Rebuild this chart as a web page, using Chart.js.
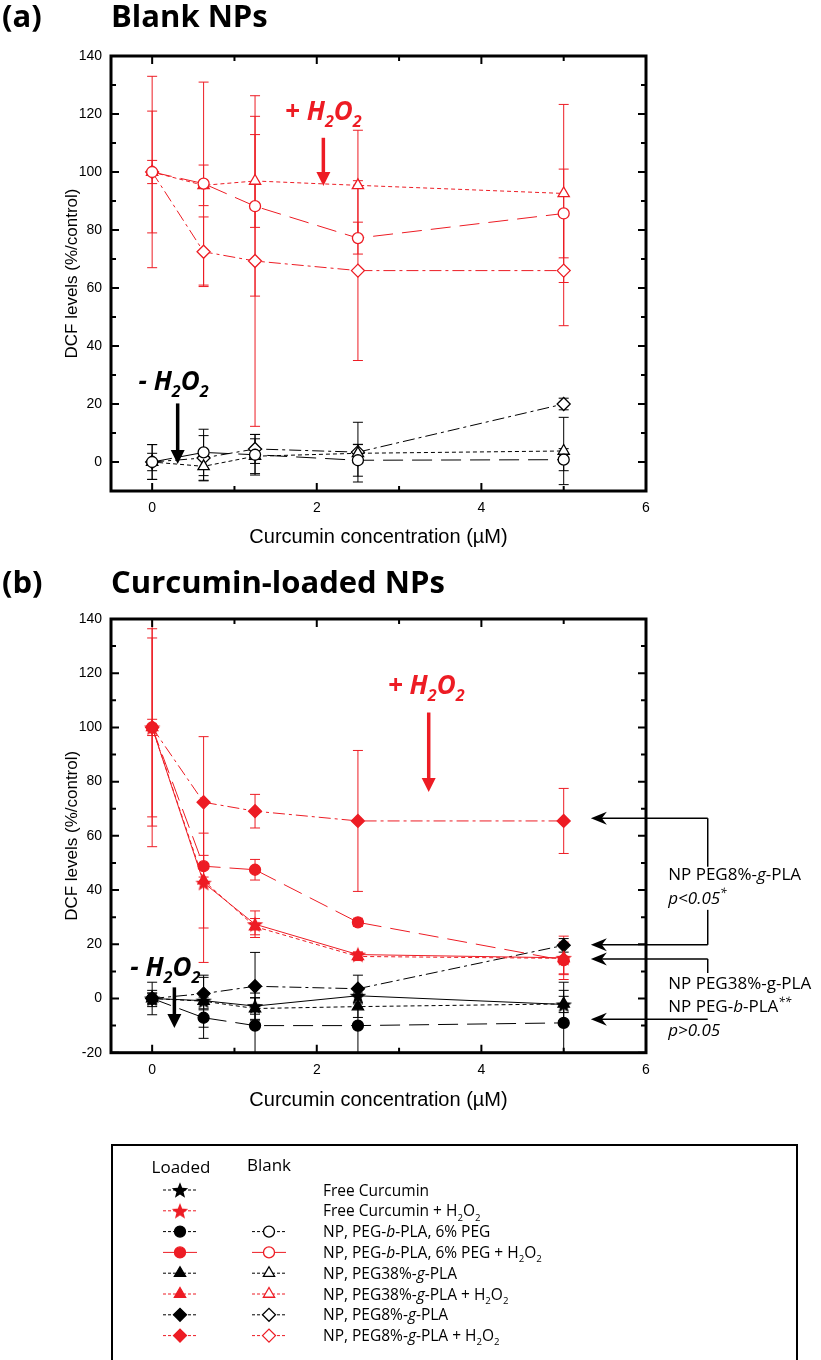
<!DOCTYPE html>
<html>
<head>
<meta charset="utf-8">
<script src="https://cdn.jsdelivr.net/npm/chart.js@4.4.1/dist/chart.umd.min.js"></script>
<style>
  html, body { margin: 0; padding: 0; background: #fff; }
  #wrap { position: relative; width: 821px; height: 1360px; overflow: hidden; }
  canvas { position: absolute; left: 0; }
</style>
</head>
<body>
<div id="wrap">
  <canvas id="chartA" width="821" height="560" style="top:0"></canvas>
  <canvas id="chartB" width="821" height="560" style="top:560px"></canvas>
  <canvas id="legendBox" width="821" height="240" style="top:1120px"></canvas>
</div>
<script>
// curcumin concentrations (µM)
const conc = [0, 0.625, 1.25, 2.5, 5];

// axis tick labels
const xTickLabels = [0, 2, 4, 6];
const yTicksA = [0, 20, 40, 60, 80, 100, 120, 140];
const yTicksB = [-20, 0, 20, 40, 60, 80, 100, 120, 140];

// (a) blank NPs, DCF %/control and errors
const blankPegbPla = [0, 3.3, 2.5, 0.6, 0.8];
const blankPegbPlaErr = [6, 8, 7, 5.5, 3.8];
const blankPegbPlaH2O2 = [100, 96, 88.2, 77.2, 85.7];
const blankPegbPlaH2O2Err = [21, 35, 31, 5.5, 15.3];
const blankPeg38 = [0, -1.5, 2, 3, 3.8];
const blankPeg38Err = [3, 5, 6, 3, 11.6];
const blankPeg38H2O2 = [100, 95.4, 96.9, 95.4, 92.6];
const blankPeg38H2O2Err = [4, 7, 16, 19, 30.7];
const blankPeg8 = [0, 1.4, 4.5, 3.4, 20];
const blankPeg8Err = [6, 7.7, 5, 10.3, 2];
const blankPeg8H2O2 = [100, 72.5, 69.3, 66, 66];
const blankPeg8H2O2Err = [33, 12, 57, 31, 19];

// (b) curcumin-loaded NPs and free curcumin
const freeCur = [0, -0.8, -2.8, 1, -2.2];
const freeCurErr = [2, 3, 3, 3, 3];
const freeCurH2O2 = [100, 42.7, 27.4, 16.2, 15];
const freeCurH2O2Err = [44, 29.4, 4.9, 1, 8];
const loadedPegbPla = [0, -7.1, -10, -10, -9];
const loadedPegbPlaErr = [3, 7.6, 12, 12, 12];
const loadedPegbPlaH2O2 = [100, 48.8, 47.5, 28.1, 14.1];
const loadedPegbPlaH2O2Err = [36.4, 4, 3.8, 1.5, 5];
const loadedPeg38 = [0, -1, -3.7, -3, -2];
const loadedPeg38Err = [6, 9.6, 4, 4, 8];
const loadedPeg38H2O2 = [100, 43.5, 26.5, 15.5, 14.8];
const loadedPeg38H2O2Err = [3, 17.5, 3, 1.5, 6];
const loadedPeg8 = [0, 1.8, 4.5, 3.6, 19.6];
const loadedPeg8Err = [2, 6, 12.5, 5, 2.5];
const loadedPeg8H2O2 = [100, 72.4, 69.1, 65.5, 65.5];
const loadedPeg8H2O2Err = [33, 24.2, 6.2, 26, 12];

// legend rows
const legendLabels = [
  'Free Curcumin',
  'Free Curcumin + H_2O_2',
  'NP, PEG-~b~-PLA, 6% PEG',
  'NP, PEG-~b~-PLA, 6% PEG + H_2O_2',
  'NP, PEG38%-~g~-PLA',
  'NP, PEG38%-~g~-PLA + H_2O_2',
  'NP, PEG8%-~g~-PLA',
  'NP, PEG8%-~g~-PLA + H_2O_2'
];

const RED = '#ed1c24';
const BLACK = '#000000';
const DASH = { solid: [], long: [20, 9], short: [4, 3], dashDot: [12, 4, 3, 4] };
const FONT_AX = '"Liberation Sans", Arial, sans-serif';
const FONT_TX = '"Open Sans", "Noto Sans", sans-serif';

function starImage(color) {
  const c = document.createElement('canvas');
  c.width = 18; c.height = 18;
  const g = c.getContext('2d');
  g.fillStyle = color;
  g.beginPath();
  for (let k = 0; k < 10; k++) {
    const r = k % 2 ? 3.7 : 8.6;
    const a = -Math.PI / 2 + k * Math.PI / 5;
    g.lineTo(9 + r * Math.cos(a), 9.8 + r * Math.sin(a));
  }
  g.closePath();
  g.fill();
  return c;
}
const STAR = { [BLACK]: starImage(BLACK), [RED]: starImage(RED) };
const RADIUS = { circle: 5.5, triangle: 6.5, rectRot: 6.5, star: 8 };

function series(label, values, errors, color, marker, open, dash) {
  return {
    label,
    data: conc.map((x, i) => ({ x, y: values[i] })),
    errors,
    showLine: true,
    borderColor: color,
    backgroundColor: color,
    borderWidth: 1,
    borderDash: dash,
    pointStyle: marker === 'star' ? STAR[color] : marker,
    pointRadius: RADIUS[marker],
    pointBorderColor: color,
    pointBackgroundColor: open ? '#ffffff' : color,
    pointBorderWidth: 1.3
  };
}

// error bars under the lines
const errorBars = {
  id: 'errorBars',
  beforeDatasetsDraw(chart) {
    const { ctx, chartArea: a, scales: { x, y } } = chart;
    ctx.save();
    ctx.beginPath();
    ctx.rect(a.left, a.top, a.right - a.left, a.bottom - a.top);
    ctx.clip();
    ctx.lineWidth = 1;
    chart.data.datasets.forEach(ds => {
      ctx.strokeStyle = ds.borderColor;
      ds.data.forEach((p, i) => {
        const e = ds.errors[i];
        const px = x.getPixelForValue(p.x);
        const top = y.getPixelForValue(p.y + e);
        const bot = y.getPixelForValue(p.y - e);
        ctx.beginPath();
        ctx.moveTo(px, top); ctx.lineTo(px, bot);
        ctx.moveTo(px - 5, top); ctx.lineTo(px + 5, top);
        ctx.moveTo(px - 5, bot); ctx.lineTo(px + 5, bot);
        ctx.stroke();
      });
    });
    ctx.restore();
  }
};

// closed frame with inward ticks on all four sides
const frameTicks = {
  id: 'frameTicks',
  afterDraw(chart, args, o) {
    const { ctx, chartArea: a, scales: { x, y } } = chart;
    ctx.save();
    ctx.strokeStyle = '#000';
    ctx.lineWidth = 2;
    ctx.beginPath();
    for (let v = Math.ceil(x.min); v <= x.max; v++) {
      const len = xTickLabels.includes(v) ? 8 : 5;
      const px = x.getPixelForValue(v);
      ctx.moveTo(px, a.bottom); ctx.lineTo(px, a.bottom - len);
      ctx.moveTo(px, a.top); ctx.lineTo(px, a.top + len);
    }
    for (let v = y.min; v <= y.max; v += 10) {
      const len = o.yLabels.includes(v) ? 8 : 5;
      const py = y.getPixelForValue(v);
      ctx.moveTo(a.left, py); ctx.lineTo(a.left + len, py);
      ctx.moveTo(a.right, py); ctx.lineTo(a.right - len, py);
    }
    ctx.stroke();
    ctx.lineWidth = 3;
    ctx.strokeRect(a.left, a.top, a.right - a.left, a.bottom - a.top);
    ctx.restore();
  }
};

// text with ~italic~ parts, _2 subscripts and ^** superscripts
function richText(ctx, str, x, y, size, opts = {}) {
  const parts = str.split(/(~[^~]*~|_\d|\^\S+)/).filter(s => s);
  const runs = parts.map(s => {
    if (s[0] === '~') return { t: s.slice(1, -1), it: true, dy: 0, sz: size };
    if (s[0] === '_') return { t: s.slice(1), it: !!opts.italic, dy: size * 0.28, sz: size * 0.62 };
    if (s[0] === '^') return { t: s.slice(1), it: true, dy: -size * 0.38, sz: size * 0.7 };
    return { t: s, it: !!opts.italic, dy: 0, sz: size };
  });
  const weight = opts.bold ? 'bold ' : '';
  const fontOf = r => (r.it ? 'italic ' : '') + weight + r.sz + 'px ' + (opts.family || FONT_TX);
  let w = 0;
  runs.forEach(r => { ctx.font = fontOf(r); w += ctx.measureText(r.t).width; });
  let xx = opts.center ? x - w / 2 : x;
  ctx.textAlign = 'left';
  ctx.textBaseline = 'alphabetic';
  runs.forEach(r => {
    ctx.font = fontOf(r);
    ctx.fillText(r.t, xx, y + r.dy);
    xx += ctx.measureText(r.t).width;
  });
}

function downArrow(ctx, px, y1, y2, color) {
  ctx.strokeStyle = color;
  ctx.fillStyle = color;
  ctx.lineWidth = 3.5;
  ctx.beginPath();
  ctx.moveTo(px, y1); ctx.lineTo(px, y2 - 12);
  ctx.stroke();
  ctx.beginPath();
  ctx.moveTo(px - 7, y2 - 14); ctx.lineTo(px + 7, y2 - 14); ctx.lineTo(px, y2);
  ctx.closePath();
  ctx.fill();
}

function leftArrowHead(ctx, px, py) {
  ctx.beginPath();
  ctx.moveTo(px, py);
  ctx.lineTo(px + 16, py - 6.5);
  ctx.lineTo(px + 11, py);
  ctx.lineTo(px + 16, py + 6.5);
  ctx.closePath();
  ctx.fill();
}

// panel heading, ±H2O2 labels and their arrows
const notes = {
  id: 'notes',
  afterDraw(chart, args, o) {
    const { ctx, chartArea: a, scales: { x, y } } = chart;
    ctx.save();
    ctx.fillStyle = '#000';
    ctx.font = 'bold 31px ' + FONT_TX;
    ctx.textAlign = 'left';
    ctx.textBaseline = 'alphabetic';
    ctx.fillText(o.tag, 2, o.titleBase);
    ctx.fillText(o.title, a.left, o.titleBase);
    o.marks.forEach(m => {
      ctx.fillStyle = m.color;
      richText(ctx, m.text, x.getPixelForValue(m.x), y.getPixelForValue(m.y) + 9, 26,
        { bold: true, italic: true, center: true });
      downArrow(ctx, x.getPixelForValue(m.ax), y.getPixelForValue(m.from), y.getPixelForValue(m.to), m.color);
    });
    ctx.restore();
  }
};

// significance brackets at the right of panel (b)
const pvalues = {
  id: 'pvalues',
  afterDraw(chart, args, o) {
    if (!o.arrows) return;
    const { ctx, scales: { x, y } } = chart;
    const tip = x.getPixelForValue(o.tipX);
    const bx = x.getPixelForValue(o.bracketX);
    ctx.save();
    ctx.strokeStyle = '#000';
    ctx.fillStyle = '#000';
    ctx.lineWidth = 1.5;
    o.arrows.forEach(v => {
      const py = y.getPixelForValue(v);
      ctx.beginPath(); ctx.moveTo(tip + 10, py); ctx.lineTo(bx, py); ctx.stroke();
      leftArrowHead(ctx, tip, py);
    });
    o.bracket.forEach(([v1, v2]) => {
      ctx.beginPath();
      ctx.moveTo(bx, y.getPixelForValue(v1)); ctx.lineTo(bx, y.getPixelForValue(v2));
      ctx.stroke();
    });
    o.lines.forEach(([txt, v]) => {
      richText(ctx, txt, x.getPixelForValue(o.textX), y.getPixelForValue(v) + 6, 17);
    });
    ctx.restore();
  }
};

function makeChart(id, datasets, yMin, yTicks, xBand, titlePad, plugins) {
  return new Chart(document.getElementById(id), {
    type: 'scatter',
    data: { datasets },
    options: {
      responsive: false,
      animation: false,
      events: [],
      layout: { padding: { top: plugins.top, right: 175, left: 0, bottom: 0 } },
      scales: {
        x: {
          type: 'linear', min: -0.5, max: 6,
          afterBuildTicks: s => { s.ticks = xTickLabels.map(v => ({ value: v })); },
          afterFit: s => { s.height = xBand; },
          grid: { display: false, drawTicks: false },
          border: { display: false },
          ticks: { padding: 9, autoSkip: false, maxRotation: 0, color: '#000', font: { family: FONT_AX, size: 14 } },
          title: { display: true, text: 'Curcumin concentration (µM)', color: '#000',
                   font: { family: FONT_AX, size: 20 }, padding: { top: 0, bottom: titlePad } }
        },
        y: {
          type: 'linear', min: yMin, max: 140,
          afterBuildTicks: s => { s.ticks = yTicks.map(v => ({ value: v })); },
          afterFit: s => { s.width = 111; },
          grid: { display: false, drawTicks: false },
          border: { display: false },
          ticks: { padding: 9, color: '#000', font: { family: FONT_AX, size: 14 } },
          title: { display: true, text: 'DCF levels (%/control)', color: '#000',
                   font: { family: FONT_AX, size: 17 }, padding: { top: 62, bottom: 0 } }
        }
      },
      plugins: {
        legend: { display: false },
        tooltip: { enabled: false },
        frameTicks: { yLabels: yTicks },
        notes: plugins.notes,
        pvalues: plugins.pvalues || {}
      }
    },
    plugins: [errorBars, frameTicks, notes, pvalues]
  });
}

makeChart('chartA', [
  series('NP, PEG-b-PLA + H2O2', blankPegbPlaH2O2, blankPegbPlaH2O2Err, RED, 'circle', true, DASH.long),
  series('NP, PEG38%-g-PLA + H2O2', blankPeg38H2O2, blankPeg38H2O2Err, RED, 'triangle', true, DASH.short),
  series('NP, PEG8%-g-PLA + H2O2', blankPeg8H2O2, blankPeg8H2O2Err, RED, 'rectRot', true, DASH.dashDot),
  series('NP, PEG-b-PLA', blankPegbPla, blankPegbPlaErr, BLACK, 'circle', true, DASH.long),
  series('NP, PEG38%-g-PLA', blankPeg38, blankPeg38Err, BLACK, 'triangle', true, DASH.short),
  series('NP, PEG8%-g-PLA', blankPeg8, blankPeg8Err, BLACK, 'rectRot', true, DASH.dashDot)
], -10, yTicksA, 69, 11, {
  top: 56,
  notes: {
    tag: '(a)', title: 'Blank NPs', titleBase: 27,
    marks: [
      { text: '+ H_2O_2', color: RED, x: 2.08, y: 121, ax: 2.08, from: 111.8, to: 95.2 },
      { text: '- H_2O_2', color: BLACK, x: 0.26, y: 28, ax: 0.31, from: 20.2, to: -0.7 }
    ]
  }
});

makeChart('chartB', [
  series('Free Curcumin + H2O2', freeCurH2O2, freeCurH2O2Err, RED, 'star', false, DASH.solid),
  series('NP, PEG-b-PLA + H2O2', loadedPegbPlaH2O2, loadedPegbPlaH2O2Err, RED, 'circle', false, DASH.long),
  series('NP, PEG38%-g-PLA + H2O2', loadedPeg38H2O2, loadedPeg38H2O2Err, RED, 'triangle', false, DASH.short),
  series('NP, PEG8%-g-PLA + H2O2', loadedPeg8H2O2, loadedPeg8H2O2Err, RED, 'rectRot', false, DASH.dashDot),
  series('Free Curcumin', freeCur, freeCurErr, BLACK, 'star', false, DASH.solid),
  series('NP, PEG-b-PLA', loadedPegbPla, loadedPegbPlaErr, BLACK, 'circle', false, DASH.long),
  series('NP, PEG38%-g-PLA', loadedPeg38, loadedPeg38Err, BLACK, 'triangle', false, DASH.short),
  series('NP, PEG8%-g-PLA', loadedPeg8, loadedPeg8Err, BLACK, 'rectRot', false, DASH.dashDot)
], -20, yTicksB, 67.3, 8, {
  top: 59,
  notes: {
    tag: '(b)', title: 'Curcumin-loaded NPs', titleBase: 33,
    marks: [
      { text: '+ H_2O_2', color: RED, x: 3.33, y: 115.7, ax: 3.36, from: 105.5, to: 76.2 },
      { text: '- H_2O_2', color: BLACK, x: 0.16, y: 11.6, ax: 0.27, from: 4.1, to: -10.9 }
    ]
  },
  pvalues: {
    tipX: 5.33, bracketX: 6.75, textX: 6.27,
    arrows: [66.5, 19.8, 14.6, -7.7],
    bracket: [[66.5, 48.6], [32.7, 19.8], [14.6, 9.4]],
    lines: [
      ['NP PEG8%-~g~-PLA', 46],
      ['~p<0.05~^*', 37.1],
      ['NP PEG38%-g-PLA', 5.7],
      ['NP PEG-~b~-PLA^**', -2.8],
      ['~p>0.05~', -11.6]
    ]
  }
});

// legend panel
(function drawLegend() {
  const cv = document.getElementById('legendBox');
  const ctx = cv.getContext('2d');
  const markers = ['star', 'star', 'circle', 'circle', 'triangle', 'triangle', 'rectRot', 'rectRot'];
  const dashes = [DASH.short, DASH.short, DASH.short, DASH.solid, DASH.short, DASH.short, DASH.short, DASH.short];
  const drawPoint = Chart.helpers && Chart.helpers.drawPoint;

  ctx.strokeStyle = '#000';
  ctx.lineWidth = 2;
  ctx.strokeRect(112, 25, 685, 260);

  ctx.fillStyle = '#000';
  ctx.font = '17px ' + FONT_TX;
  ctx.textAlign = 'center';
  ctx.textBaseline = 'middle';
  ctx.fillText('Loaded', 181, 48);
  ctx.fillText('Blank', 269, 46);

  function swatch(cx, cy, marker, color, open, dash) {
    ctx.save();
    ctx.strokeStyle = color;
    ctx.lineWidth = 1;
    ctx.setLineDash(dash.length ? [3, 2] : []);
    ctx.beginPath();
    ctx.moveTo(cx - 17, cy); ctx.lineTo(cx + 17, cy);
    ctx.stroke();
    ctx.setLineDash([]);
    ctx.fillStyle = open ? '#ffffff' : color;
    ctx.lineWidth = 1.3;
    const opts = {
      pointStyle: marker === 'star' ? STAR[color] : marker,
      radius: RADIUS[marker], rotation: 0, borderWidth: 1.3
    };
    if (drawPoint) drawPoint(ctx, opts, cx, cy);
    ctx.restore();
  }

  legendLabels.forEach((label, i) => {
    const cy = 70 + i * 20.8;
    const color = i % 2 ? RED : BLACK;
    swatch(180, cy, markers[i], color, false, dashes[i]);
    if (i > 1) swatch(269, cy, markers[i], color, true, dashes[i]);
    ctx.fillStyle = '#000';
    richText(ctx, label, 323, cy + 5.5, 15.5);
  });
})();
</script>
</body>
</html>
